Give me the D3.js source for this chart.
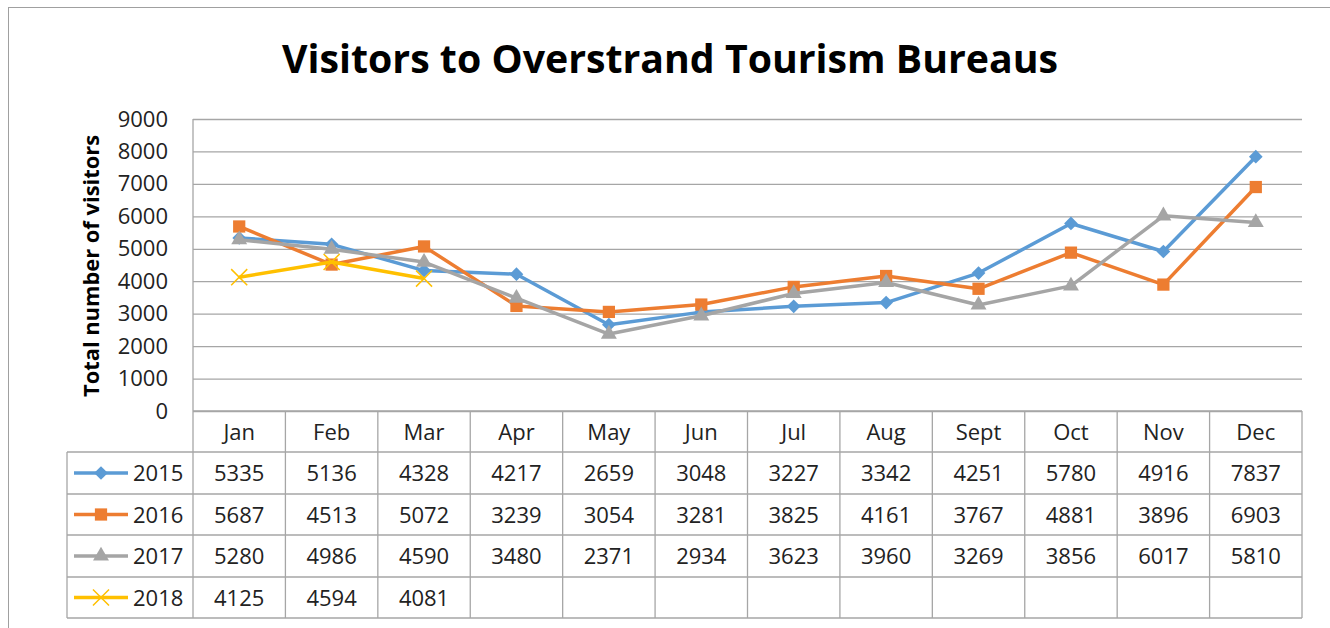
<!DOCTYPE html>
<html>
<head>
<meta charset="utf-8">
<script src="https://cdn.jsdelivr.net/npm/d3@7"></script>
<style>
  body { margin: 0; background: #fff; }
  svg { display: block; font-family: "Open Sans", "Noto Sans", sans-serif; }
</style>
</head>
<body>
<div class="container"></div>
<script>
// 数据
const months = ["Jan", "Feb", "Mar", "Apr", "May", "Jun", "Jul", "Aug", "Sept", "Oct", "Nov", "Dec"];
const years = ["2015", "2016", "2017", "2018"];
const visitors2015 = [5335, 5136, 4328, 4217, 2659, 3048, 3227, 3342, 4251, 5780, 4916, 7837];
const visitors2016 = [5687, 4513, 5072, 3239, 3054, 3281, 3825, 4161, 3767, 4881, 3896, 6903];
const visitors2017 = [5280, 4986, 4590, 3480, 2371, 2934, 3623, 3960, 3269, 3856, 6017, 5810];
const visitors2018 = [4125, 4594, 4081];
const yTicks = [0, 1000, 2000, 3000, 4000, 5000, 6000, 7000, 8000, 9000];

const seriesValues = [visitors2015, visitors2016, visitors2017, visitors2018];
const colors = ["#5b9bd5", "#ed7d31", "#a5a5a5", "#ffc000"];
const symbols = [d3.symbolDiamond2, d3.symbolSquare, d3.symbolTriangle, d3.symbolTimes];
const symbolSizes = [120, 150, 110, 170];

const W = 1330, H = 628;
const plotLeft = 193, plotRight = 1302, plotTop = 119, plotBottom = 411;
const tableLeft = 67;
const rowEdges = [411, 452, 494, 535, 577, 618];
const gridColor = "#a6a6a6";

const svg = d3.select(".container").append("svg")
  .attr("width", W).attr("height", H);

// 外框
svg.append("rect")
  .attr("x", 8.5).attr("y", 7.5)
  .attr("width", W + 10).attr("height", H + 10)
  .attr("fill", "none").attr("stroke", "#a0a0a0").attr("stroke-width", 1);

// 标题
svg.append("text")
  .attr("x", 670).attr("y", 73)
  .attr("text-anchor", "middle")
  .attr("font-size", 40).attr("font-weight", "bold")
  .attr("textLength", 776).attr("lengthAdjust", "spacingAndGlyphs")
  .attr("fill", "#000")
  .text("Visitors to Overstrand Tourism Bureaus");

// 比例尺
const x = d3.scaleBand().domain(months).range([plotLeft, plotRight]);
const y = d3.scaleLinear().domain([0, 9000]).range([plotBottom, plotTop]);

// Y 轴和网格线
svg.append("g")
  .attr("transform", `translate(${plotLeft},0)`)
  .call(d3.axisLeft(y).tickValues(yTicks).tickFormat(d3.format("d")).tickSize(0).tickPadding(25))
  .call(g => g.select(".domain").remove())
  .call(g => g.selectAll(".tick line").clone()
    .attr("x2", plotRight - plotLeft)
    .attr("stroke", gridColor).attr("stroke-width", 1.3))
  .call(g => g.selectAll(".tick text")
    .attr("font-size", 22).attr("fill", "#222")
    .attr("font-family", "'Open Sans', sans-serif"));

svg.append("line")
  .attr("x1", plotLeft).attr("x2", plotLeft)
  .attr("y1", plotTop).attr("y2", plotBottom)
  .attr("stroke", gridColor).attr("stroke-width", 1.3);

// Y 轴标题
svg.append("text")
  .attr("transform", "translate(99,266) rotate(-90)")
  .attr("text-anchor", "middle")
  .attr("font-size", 21).attr("font-weight", "bold")
  .attr("textLength", 262).attr("lengthAdjust", "spacingAndGlyphs")
  .text("Total number of visitors");

// 数据表格
const tableG = svg.append("g");
rowEdges.forEach((ry, i) => {
  tableG.append("line")
    .attr("x1", i === 0 ? plotLeft : tableLeft).attr("x2", plotRight)
    .attr("y1", ry).attr("y2", ry)
    .attr("stroke", gridColor).attr("stroke-width", 1.3);
});
const colEdges = months.map(m => x(m)).concat([plotRight]);
colEdges.forEach(cx => {
  tableG.append("line")
    .attr("x1", cx).attr("x2", cx)
    .attr("y1", rowEdges[0]).attr("y2", rowEdges[5])
    .attr("stroke", gridColor).attr("stroke-width", 1.3);
});
tableG.append("line")
  .attr("x1", tableLeft).attr("x2", tableLeft)
  .attr("y1", rowEdges[1]).attr("y2", rowEdges[5])
  .attr("stroke", gridColor).attr("stroke-width", 1.3);

const rowMid = i => (rowEdges[i] + rowEdges[i + 1]) / 2;

// 表头月份
tableG.selectAll(".month")
  .data(months)
  .join("text")
  .attr("class", "month")
  .attr("x", d => x(d) + x.bandwidth() / 2)
  .attr("y", rowMid(0) + 8)
  .attr("text-anchor", "middle")
  .attr("font-size", 22).attr("fill", "#222")
  .text(d => d);

// 表格数值和图例
seriesValues.forEach((vals, s) => {
  const cy = rowMid(s + 1);
  tableG.selectAll(`.val${s}`)
    .data(vals)
    .join("text")
    .attr("class", `val${s}`)
    .attr("x", (d, i) => x(months[i]) + x.bandwidth() / 2)
    .attr("y", cy + 8)
    .attr("text-anchor", "middle")
    .attr("font-size", 22).attr("fill", "#222")
    .text(d => d);

  tableG.append("line")
    .attr("x1", 74).attr("x2", 128)
    .attr("y1", cy).attr("y2", cy)
    .attr("stroke", colors[s]).attr("stroke-width", 3.5);
  const sym = tableG.append("path")
    .attr("transform", `translate(101,${cy})`)
    .attr("d", d3.symbol(symbols[s], symbolSizes[s])());
  if (s === 3) sym.attr("fill", "none").attr("stroke", colors[s]).attr("stroke-width", 1.5);
  else sym.attr("fill", colors[s]);

  tableG.append("text")
    .attr("x", 133).attr("y", cy + 8)
    .attr("font-size", 22).attr("fill", "#222")
    .text(years[s]);
});

// 折线
const line = d3.line()
  .x((d, i) => x(months[i]) + x.bandwidth() / 2)
  .y(d => y(d));

seriesValues.forEach((vals, s) => {
  const g = svg.append("g");
  g.append("path")
    .datum(vals)
    .attr("d", line)
    .attr("fill", "none")
    .attr("stroke", colors[s])
    .attr("stroke-width", 3.5)
    .attr("stroke-linejoin", "round");
  const marks = g.selectAll("path.mark")
    .data(vals)
    .join("path")
    .attr("class", "mark")
    .attr("transform", (d, i) => `translate(${x(months[i]) + x.bandwidth() / 2},${y(d)})`)
    .attr("d", d3.symbol(symbols[s], symbolSizes[s])());
  if (s === 3) marks.attr("fill", "none").attr("stroke", colors[s]).attr("stroke-width", 1.5);
  else marks.attr("fill", colors[s]);
});
</script>
</body>
</html>
